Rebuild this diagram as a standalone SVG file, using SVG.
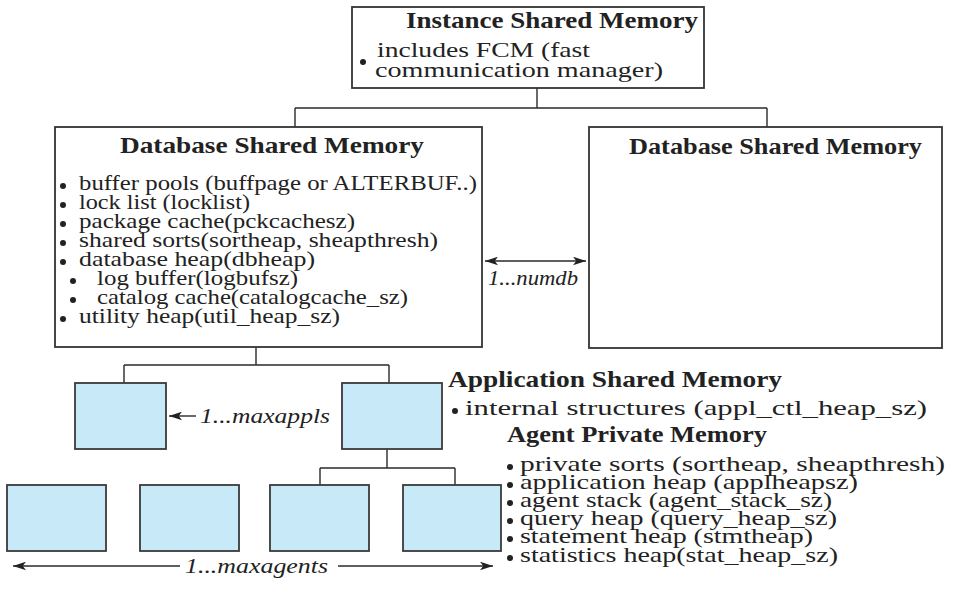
<svg xmlns="http://www.w3.org/2000/svg" width="963" height="595" viewBox="0 0 963 595">
<style>
.box{fill:#ffffff;stroke:#333333;stroke-width:1.8}
.mem{fill:#c8e9f8;stroke:#3a3a3a;stroke-width:1.8}
.ln{fill:none;stroke:#2a2a2a;stroke-width:1.4}
.t{font-family:"Liberation Serif","Times New Roman",serif;font-size:22px;fill:#222222}
.h{font-family:"Liberation Serif","Times New Roman",serif;font-size:24px;font-weight:bold;fill:#222222}
.i{font-family:"Liberation Serif","Times New Roman",serif;font-size:22px;font-style:italic;fill:#222222}
.b{fill:#222222}
</style>
<defs>
<marker id="ah" viewBox="0 0 12 8" refX="12" refY="4" markerWidth="13" markerHeight="9" markerUnits="userSpaceOnUse" orient="auto-start-reverse">
<path d="M0,0 L12,4 L0,8 L3,4 Z" fill="#222222"/>
</marker>
</defs>

<g id="connectors">
<path class="ln" d="M537,88 V108 M295,108 H767 M295,108 V127 M767,108 V127"/>
<path class="ln" d="M256,347 V365 M124,365 H389 M124,365 V383 M389,365 V383"/>
<path class="ln" d="M387,449 V468 M320,468 H455 M320,468 V485 M455,468 V485"/>
<line class="ln" x1="485" y1="261" x2="586" y2="261" marker-start="url(#ah)" marker-end="url(#ah)"/>
<line class="ln" x1="196" y1="416" x2="169" y2="416" marker-end="url(#ah)"/>
<line class="ln" x1="180" y1="566" x2="13" y2="566" marker-end="url(#ah)"/>
<line class="ln" x1="338" y1="566" x2="493" y2="566" marker-end="url(#ah)"/>
<text class="i" x="488" y="285" textLength="90" lengthAdjust="spacingAndGlyphs">1...numdb</text>
<text class="i" x="200" y="423" textLength="130" lengthAdjust="spacingAndGlyphs">1...maxappls</text>
<text class="i" x="185" y="573" textLength="143" lengthAdjust="spacingAndGlyphs">1...maxagents</text>
</g>

<g id="instance-shared-memory">
<rect class="box" x="352" y="7" width="352" height="81"/>
<text class="h" x="406" y="28" textLength="292" lengthAdjust="spacingAndGlyphs">Instance Shared Memory</text>
<circle class="b" cx="363" cy="62" r="3"/>
<text class="t" x="377" y="57" textLength="213" lengthAdjust="spacingAndGlyphs">includes FCM (fast</text>
<text class="t" x="375" y="77" textLength="288" lengthAdjust="spacingAndGlyphs">communication manager)</text>
</g>

<g id="database-shared-memory-1">
<rect class="box" x="55" y="127" width="427" height="220"/>
<text class="h" x="120" y="153" textLength="304" lengthAdjust="spacingAndGlyphs">Database Shared Memory</text>
<circle class="b" cx="63" cy="186" r="3"/>
<text class="t" x="79" y="190" textLength="398" lengthAdjust="spacingAndGlyphs">buffer pools (buffpage or ALTERBUF..)</text>
<circle class="b" cx="63" cy="205" r="3"/>
<text class="t" x="79" y="209" textLength="171" lengthAdjust="spacingAndGlyphs">lock list (locklist)</text>
<circle class="b" cx="63" cy="224" r="3"/>
<text class="t" x="79" y="228" textLength="276" lengthAdjust="spacingAndGlyphs">package cache(pckcachesz)</text>
<circle class="b" cx="63" cy="243" r="3"/>
<text class="t" x="79" y="247" textLength="359" lengthAdjust="spacingAndGlyphs">shared sorts(sortheap, sheapthresh)</text>
<circle class="b" cx="63" cy="262" r="3"/>
<text class="t" x="79" y="266" textLength="236" lengthAdjust="spacingAndGlyphs">database heap(dbheap)</text>
<circle class="b" cx="73" cy="281" r="3"/>
<text class="t" x="97" y="285" textLength="201" lengthAdjust="spacingAndGlyphs">log buffer(logbufsz)</text>
<circle class="b" cx="73" cy="300" r="3"/>
<text class="t" x="97" y="304" textLength="311" lengthAdjust="spacingAndGlyphs">catalog cache(catalogcache_sz)</text>
<circle class="b" cx="63" cy="319" r="3"/>
<text class="t" x="79" y="323" textLength="261" lengthAdjust="spacingAndGlyphs">utility heap(util_heap_sz)</text>
</g>

<g id="database-shared-memory-2">
<rect class="box" x="589" y="127" width="353" height="221"/>
<text class="h" x="629" y="154" textLength="293" lengthAdjust="spacingAndGlyphs">Database Shared Memory</text>
</g>

<g id="application-1">
<rect class="mem" x="75" y="383" width="91" height="66"/>
</g>
<g id="application-2">
<rect class="mem" x="342" y="383" width="100" height="66"/>
</g>
<g id="agent-1">
<rect class="mem" x="7" y="485" width="99" height="66"/>
</g>
<g id="agent-2">
<rect class="mem" x="140" y="485" width="99" height="66"/>
</g>
<g id="agent-3">
<rect class="mem" x="270" y="485" width="99" height="66"/>
</g>
<g id="agent-4">
<rect class="mem" x="403" y="485" width="98" height="66"/>
</g>

<g id="application-shared-memory-legend">
<text class="h" x="448" y="387" textLength="334" lengthAdjust="spacingAndGlyphs">Application Shared Memory</text>
<circle class="b" cx="455" cy="411" r="3"/>
<text class="t" x="465" y="415" textLength="462" lengthAdjust="spacingAndGlyphs">internal structures (appl_ctl_heap_sz)</text>
</g>

<g id="agent-private-memory-legend">
<text class="h" x="507" y="442" textLength="260" lengthAdjust="spacingAndGlyphs">Agent Private Memory</text>
<circle class="b" cx="510" cy="467" r="3"/>
<text class="t" x="520" y="471" textLength="425" lengthAdjust="spacingAndGlyphs">private sorts (sortheap, sheapthresh)</text>
<circle class="b" cx="510" cy="485" r="3"/>
<text class="t" x="520" y="489" textLength="338" lengthAdjust="spacingAndGlyphs">application heap (applheapsz)</text>
<circle class="b" cx="510" cy="503" r="3"/>
<text class="t" x="520" y="507" textLength="312" lengthAdjust="spacingAndGlyphs">agent stack (agent_stack_sz)</text>
<circle class="b" cx="510" cy="521" r="3"/>
<text class="t" x="520" y="525" textLength="317" lengthAdjust="spacingAndGlyphs">query heap (query_heap_sz)</text>
<circle class="b" cx="510" cy="539" r="3"/>
<text class="t" x="520" y="543" textLength="293" lengthAdjust="spacingAndGlyphs">statement heap (stmtheap)</text>
<circle class="b" cx="510" cy="558" r="3"/>
<text class="t" x="520" y="562" textLength="318" lengthAdjust="spacingAndGlyphs">statistics heap(stat_heap_sz)</text>
</g>
</svg>
